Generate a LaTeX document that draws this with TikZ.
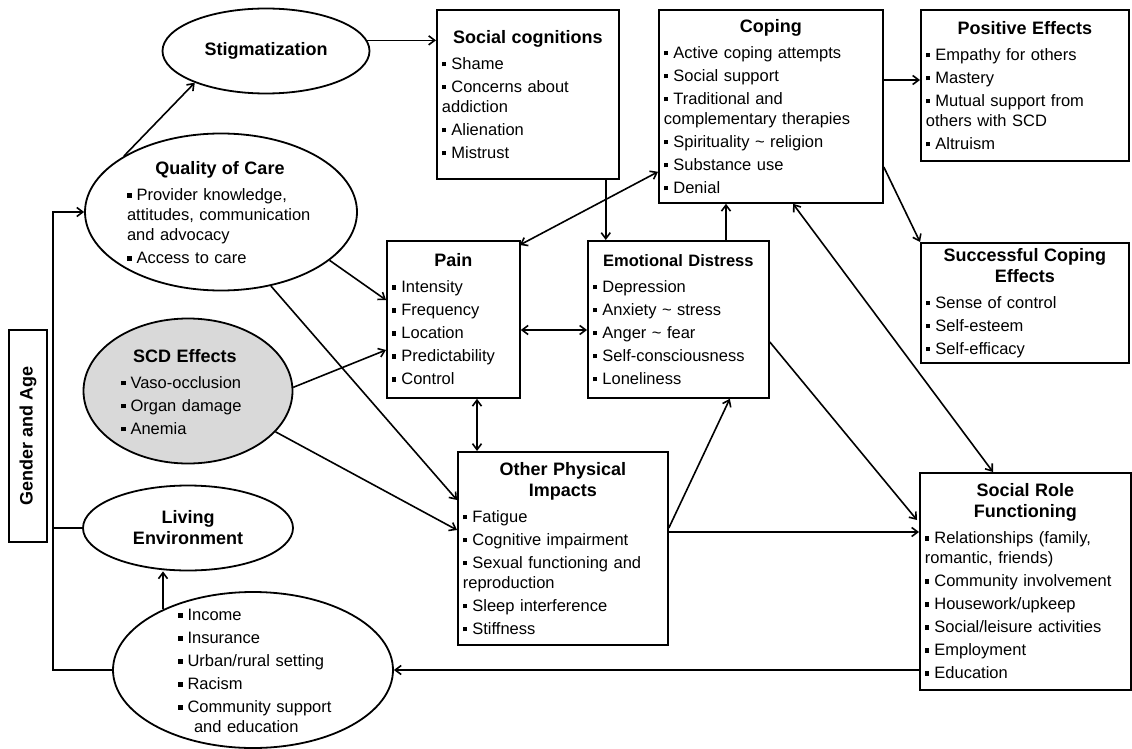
\documentclass[tikz,border=0pt]{standalone}
\usepackage{fontspec}
\setmainfont{Liberation Sans}
\usetikzlibrary{arrows.meta,shapes.geometric,calc}

% small square bullet, list item, centred box heading
\newcommand{\sqbul}{\rule[3pt]{4.5pt}{4.5pt}\hspace{5pt}}
\newcommand{\itm}{\par\vspace{3pt}\noindent\sqbul}
\newcommand{\boxtitle}[2][18]{{\centering\fontsize{#1}{21}\selectfont\bfseries #2\par}\vspace{3pt}}

\begin{document}
\begin{tikzpicture}[
  x=1pt, y=-1pt,
  font=\fontsize{16.5}{20}\selectfont,
  >={Straight Barb[length=6pt,width=9pt]},
  card/.style={draw, line width=1.8pt, anchor=north west, align=left, inner xsep=5pt, inner ysep=2pt},
  oval/.style={ellipse, draw, line width=1.8pt, inner sep=0pt},
  ovaltext/.style={align=left, inner sep=0pt},
  flow/.style={->, line width=1.6pt},
  both/.style={<->, line width=1.6pt},
]
\useasboundingbox (0,0) rectangle (1132,749);

% ---- left column: ellipses ----
\node[oval, minimum width=207pt, minimum height=85pt] (stig) at (266,51) {};
\node[ovaltext, font=\fontsize{18}{21}\selectfont\bfseries] (stigtxt) at (stig) {Stigmatization};

\node[oval, minimum width=272pt, minimum height=157pt] (qoc) at (221,212) {};
\node[ovaltext, text width=186pt] (qoctxt) at ($(qoc)+(-1,1)$) {\boxtitle{Quality of Care}%
  \itm Provider knowledge,\\attitudes, communication\\and advocacy
  \itm Access to care};

\node[oval, fill=black!15, minimum width=209pt, minimum height=145pt] (scd) at (188,391) {};
\node[ovaltext, text width=128pt] (scdtxt) at ($(scd)+(-3,1)$) {\boxtitle{SCD Effects}%
  \itm Vaso-occlusion
  \itm Organ damage
  \itm Anemia};

\node[oval, minimum width=210pt, minimum height=85pt] (living) at (188,528) {};
\node[ovaltext, align=center, font=\fontsize{18}{21}\selectfont\bfseries] (livingtxt) at (living) {Living\\Environment};

\node[oval, minimum width=280pt, minimum height=156pt] (socio) at (253,670) {};
\node[ovaltext, text width=162pt] (sociotxt) at ($(socio)+(6,1)$) {\noindent\sqbul Income
  \itm Insurance
  \itm Urban/rural setting
  \itm Racism
  \itm Community support\\\hspace*{16pt}and education};

\node[draw, line width=1.8pt, rotate=90, minimum width=212pt, minimum height=38pt,
      font=\fontsize{18}{21}\selectfont\bfseries] (gender) at (28,436) {Gender and Age};

% ---- boxes ----
\node[card, minimum width=182pt, minimum height=169pt, text width=172pt] (soccog) at (436,9) {%
  \boxtitle{Social cognitions}%
  \itm Shame
  \itm Concerns about\\addiction
  \itm Alienation
  \itm Mistrust};

\node[card, minimum width=224pt, minimum height=193pt, text width=214pt] (coping) at (658,9) {%
  \boxtitle{Coping}%
  \itm Active coping attempts
  \itm Social support
  \itm Traditional and\\complementary therapies
  \itm Spirituality \textasciitilde{} religion
  \itm Substance use
  \itm Denial};

\node[card, minimum width=208pt, minimum height=151pt, text width=198pt] (pos) at (920,9) {%
  \boxtitle{Positive Effects}%
  \itm Empathy for others
  \itm Mastery
  \itm Mutual support from\\others with SCD
  \itm Altruism};

\node[card, minimum width=208pt, minimum height=120pt, text width=198pt] (sce) at (920,242) {%
  \boxtitle{Successful Coping\\Effects}%
  \itm Sense of control
  \itm Self-esteem
  \itm Self-efficacy};

\node[card, minimum width=133pt, minimum height=157pt, text width=123pt] (pain) at (386,240) {%
  \boxtitle{Pain}%
  \itm Intensity
  \itm Frequency
  \itm Location
  \itm Predictability
  \itm Control};

\node[card, minimum width=181pt, minimum height=157pt, text width=171pt] (ed) at (587,240) {%
  \boxtitle[16.5]{Emotional Distress}%
  \itm Depression
  \itm Anxiety \textasciitilde{} stress
  \itm Anger \textasciitilde{} fear
  \itm Self-consciousness
  \itm Loneliness};

\node[card, minimum width=210pt, minimum height=193pt, text width=200pt] (opi) at (457,451) {%
  \boxtitle{Other Physical\\Impacts}%
  \itm Fatigue
  \itm Cognitive impairment
  \itm Sexual functioning and\\reproduction
  \itm Sleep interference
  \itm Stiffness};

\node[card, minimum width=211pt, minimum height=217pt, text width=201pt] (srf) at (919,472) {%
  \boxtitle{Social Role\\Functioning}%
  \itm Relationships (family,\\romantic, friends)
  \itm Community involvement
  \itm Housework/upkeep
  \itm Social/leisure activities
  \itm Employment
  \itm Education};

% ---- connector end points ----
\coordinate (spine) at (53,0);
\coordinate (scOut) at ($(soccog.south east)+(-14,0)$);
\coordinate (edUp) at ($(ed.north west)+(139,0)$);
\coordinate (posIn) at ($(coping.north east)+(0,71)$);
\coordinate (painEd) at ($(pain.north east)+(0,90)$);
\coordinate (painOpi) at ($(pain.south west)+(91,0)$);
\coordinate (opiSrf) at ($(opi.north east)+(0,81)$);

% ---- gender and age spine ----
\draw[flow] (socio.west) -- (socio.west -| spine) -- (qoc.west -| spine) -- (qoc.west);
\draw[line width=1.6pt] (living.west) -- (living.west -| spine);

% ---- arrows ----
\draw[flow] (qoc.150) -- (stig.204);
\draw[flow] (stig.6) -- (stig.6 -| soccog.west);
\draw[flow] (scOut) -- (scOut |- ed.north);
\draw[both] ($(coping.south west)+(0,-32)$) -- ($(pain.north east)+(-1,5)$);
\draw[flow] (edUp) -- (edUp |- coping.south);
\draw[flow] (posIn) -- (posIn -| pos.west);
\draw[flow] ($(coping.north east)+(0,158)$) -- (sce.north west);
\draw[both] ($(coping.south west)+(135,0)$) -- ($(srf.north west)+(74,0)$);

\draw[flow] (qoc.-24) -- ($(pain.north west)+(0,60)$);
\draw[flow] (qoc.-56) -- ($(opi.north west)+(0,49)$);
\draw[flow] (scd.2) -- ($(pain.north west)+(0,110)$);
\draw[flow] (scd.-25) -- ($(opi.north west)+(0,79)$);

\draw[both] (painEd) -- (painEd -| ed.west);
\draw[both] (painOpi) -- (painOpi |- opi.north);
\draw[flow] ($(opi.north east)+(0,77)$) -- ($(ed.south east)+(-40,0)$);
\draw[flow] (opiSrf) -- (opiSrf -| srf.west);
\draw[flow] ($(ed.north east)+(0,102)$) -- ($(srf.north west)+(-2,48)$);

\draw[flow] (srf.west |- socio.east) -- (socio.east);
\draw[flow] (socio.146) -- (socio.146 |- living.south);
\end{tikzpicture}
\end{document}
